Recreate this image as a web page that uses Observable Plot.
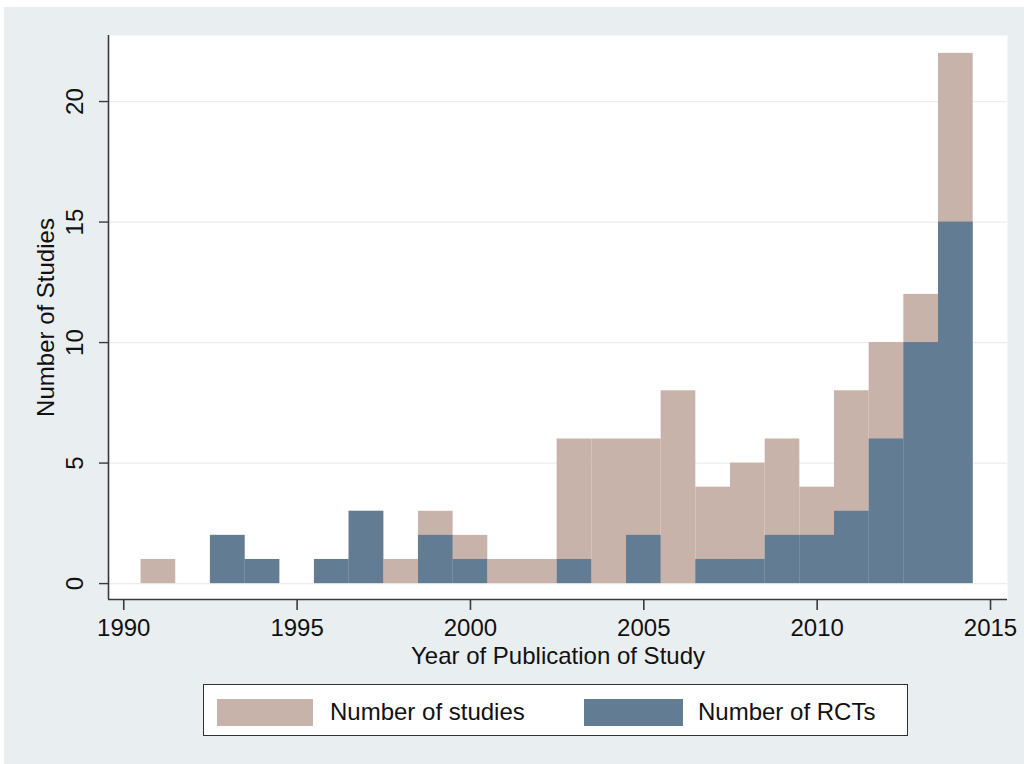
<!DOCTYPE html>
<html>
<head>
<meta charset="utf-8">
<script src="https://cdn.jsdelivr.net/npm/d3@7"></script>
<script src="https://cdn.jsdelivr.net/npm/@observablehq/plot@0.6"></script>
<style>
  html, body { margin: 0; padding: 0; background: #ffffff; width: 1024px; height: 764px; overflow: hidden; }
  #wrap { position: absolute; left: 4px; top: 7px; width: 1020px; height: 757px; background: #e9eef1; font-family: "Liberation Sans", Arial, sans-serif; }
  #chart { position: absolute; left: 0; top: 0; }
  #legend { position: absolute; left: 199px; top: 677px; width: 703px; height: 50px; background: #ffffff; border: 1.5px solid #333; }
  .sw { position: absolute; top: 14px; height: 27px; }
  .lt { position: absolute; top: 0; height: 52px; line-height: 54px; font-size: 24px; color: #111; white-space: nowrap; }
</style>
</head>
<body>
<div id="wrap">
  <div id="chart"></div>
  <div id="legend"></div>
</div>
<script>
const years    = [1991,1992,1993,1994,1995,1996,1997,1998,1999,2000,2001,2002,2003,2004,2005,2006,2007,2008,2009,2010,2011,2012,2013,2014];
const studies  = [1,   0,   2,   1,   0,   1,   3,   1,   3,   2,   1,   1,   6,   6,   6,   8,   4,   5,   6,   4,   8,   10,  12,  22];
const rcts     = [0,   0,   2,   1,   0,   1,   3,   0,   2,   1,   0,   0,   1,   0,   2,   0,   1,   1,   2,   2,   3,   6,   10,  15];
const xTicks   = [1990,1995,2000,2005,2010,2015];
const yTicks   = [0,5,10,15,20];
const seriesNames = ["Number of studies", "Number of RCTs"];
const seriesColors = ["#c8b3ab", "#627c94"];
const xLabel = "Year of Publication of Study";
const yLabel = "Number of Studies";

const rowsS = years.map((y, i) => ({year: y, v: studies[i]})).filter(d => d.v > 0);
const rowsR = years.map((y, i) => ({year: y, v: rcts[i]})).filter(d => d.v > 0);

const xDom = [1989.56, 2015.49];
const yDom = [-0.66, 22.74];
const font = "Liberation Sans, Arial, sans-serif";

const chart = Plot.plot({
  width: 1020,
  height: 680,
  marginLeft: 104,
  marginRight: 17,
  marginTop: 28,
  marginBottom: 88,
  style: {background: "transparent", fontFamily: font, color: "#111"},
  x: {domain: xDom, ticks: xTicks},
  y: {domain: yDom},
  marks: [
    Plot.frame({fill: "#ffffff", stroke: null}),
    Plot.ruleY(yTicks, {stroke: "#ededed", strokeWidth: 1.2}),
    Plot.rect(rowsS, {x1: d => d.year - 0.5, x2: d => d.year + 0.5, y1: 0, y2: "v", fill: seriesColors[0]}),
    Plot.rect(rowsR, {x1: d => d.year - 0.5, x2: d => d.year + 0.5, y1: 0, y2: "v", fill: seriesColors[1]}),
    Plot.ruleX([xDom[0]], {stroke: "#3a3a3a", strokeWidth: 1.6}),
    Plot.ruleY([yDom[0]], {stroke: "#3a3a3a", strokeWidth: 1.6}),
    Plot.axisX({ticks: xTicks, tickFormat: d => String(d), tickSize: 11, tickPadding: 8, fontSize: 24, label: null, stroke: "#3a3a3a", strokeWidth: 1.6}),
    Plot.axisY({ticks: yTicks, tickFormat: () => "", tickSize: 9, label: null, stroke: "#3a3a3a", strokeWidth: 1.4}),
    Plot.text(yTicks, {x: () => xDom[0], y: d => d, text: d => String(d), rotate: -90, dx: -33, textAnchor: "middle", fontSize: 24, fill: "#111"}),
    Plot.text([yLabel], {frameAnchor: "left", rotate: -90, dx: -62, textAnchor: "middle", fontSize: 24, fill: "#111"}),
    Plot.text([xLabel], {frameAnchor: "bottom", dy: 47, lineAnchor: "top", textAnchor: "middle", fontSize: 24, fill: "#111"})
  ]
});
document.getElementById("chart").appendChild(chart);

const lg = document.getElementById("legend");
const swLeft = [13, 380];
const swWidth = [96, 99];
const txtLeft = [126, 494];
seriesNames.forEach((name, i) => {
  const sw = document.createElement("div");
  sw.className = "sw";
  sw.style.left = swLeft[i] + "px";
  sw.style.width = swWidth[i] + "px";
  sw.style.background = seriesColors[i];
  lg.appendChild(sw);
  const t = document.createElement("div");
  t.className = "lt";
  t.style.left = txtLeft[i] + "px";
  t.textContent = name;
  lg.appendChild(t);
});
</script>
</body>
</html>
